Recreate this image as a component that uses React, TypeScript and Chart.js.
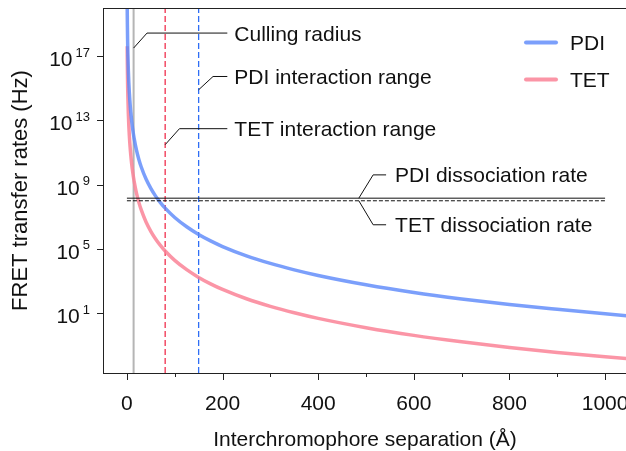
import React, { useEffect, useRef } from 'react';
import { Chart, registerables } from 'chart.js';

Chart.register(...registerables);

// ---- data ----
const separations = [0.6, 0.8, 1, 1.5, 2, 3, 4, 5, 6, 8, 10, 12, 15, 20, 25, 30, 40, 50, 60, 70, 80, 100, 125, 150, 175, 200, 250, 300, 350, 400, 500, 600, 700, 800, 900, 1000, 1100];
const pdiRates = [1.95e20, 3.47e19, 9.12e18, 7.94e17, 1.41e17, 1.26e16, 2.24e15, 5.89e14, 1.95e14, 3.47e13, 9.12e12, 3.09e12, 7.94e11, 1.41e11, 3.72e10, 1.26e10, 2.24e9, 5.89e8, 1.95e8, 7.76e7, 3.47e7, 9.12e6, 2.4e6, 7.94e5, 3.16e5, 1.41e5, 3.72e4, 1.26e4, 5.01e3, 2.24e3, 589, 195, 77.6, 34.7, 17.4, 9.12, 5.13];
const tetRates = [4.17e17, 7.41e16, 1.95e16, 1.7e15, 3.02e14, 2.69e13, 4.79e12, 1.26e12, 4.17e11, 7.41e10, 1.95e10, 6.61e9, 1.7e9, 3.02e8, 7.94e7, 2.69e7, 4.79e6, 1.26e6, 4.17e5, 1.66e5, 7.41e4, 1.95e4, 5.13e3, 1.7e3, 676, 302, 79.4, 26.9, 10.7, 4.79, 1.26, 0.417, 0.166, 0.0741, 0.0363, 0.0195, 0.011];

const xMajorTicks = [0, 200, 400, 600, 800, 1000];
const xMinorTicks = [100, 300, 500, 700, 900];
const yTickExponents = [1, 5, 9, 13, 17];
const xLimits = [-50, 1050];
const yLimits = [1.9e-3, 1e20];

const cullingRadius = 14;
const tetInteractionRange = 80;
const pdiInteractionRange = 150;
const pdiDissociationRate = 1.45e8;
const tetDissociationRate = 1.0e8;
const dissociationSpan = [0, 1000];

const seriesLabels = ['PDI', 'TET'];
const PDI_COLOR = 'rgba(90,135,250,0.8)';
const TET_COLOR = 'rgba(250,130,150,0.85)';
const FONT = '"Liberation Sans", Arial, Helvetica, sans-serif';

const annotations = [
  { text: 'Culling radius', x: cullingRadius, y: 3.2e17, dx: 13.4, dy: -15, endX: 210, gap: 7 },
  { text: 'PDI interaction range', x: pdiInteractionRange, y: 8.1e14, dx: 14.4, dy: -13.3, endX: 210, gap: 7 },
  { text: 'TET interaction range', x: tetInteractionRange, y: 3.1e11, dx: 14.3, dy: -16, endX: 210, gap: 7 },
  { text: 'PDI dissociation rate', x: 485, y: pdiDissociationRate, dx: 14.3, dy: -23.3, endX: 542, gap: 9 },
  { text: 'TET dissociation rate', x: 485, y: tetDissociationRate, dx: 14.3, dy: 24, endX: 542, gap: 9 },
];

const pts = (xs: number[], ys: number[]) => xs.map((x, i) => ({ x, y: ys[i] }));

const decorPlugin = {
  id: 'decor',
  afterDraw(chart: any) {
    const { ctx, chartArea: a, scales } = chart;
    const x = scales.x;
    const y = scales.y;
    ctx.save();
    ctx.strokeStyle = '#222';
    ctx.fillStyle = '#111';
    ctx.lineWidth = 1;
    // top spine
    ctx.beginPath();
    ctx.moveTo(a.left, Math.round(a.top) + 0.5);
    ctx.lineTo(a.right + 20, Math.round(a.top) + 0.5);
    ctx.stroke();

    // x ticks
    ctx.font = `21px ${FONT}`;
    ctx.textAlign = 'center';
    ctx.textBaseline = 'alphabetic';
    for (const v of xMajorTicks) {
      const px = Math.round(x.getPixelForValue(v)) + 0.5;
      ctx.beginPath();
      ctx.moveTo(px, a.bottom);
      ctx.lineTo(px, a.bottom + 7);
      ctx.stroke();
      ctx.fillText(String(v), x.getPixelForValue(v), a.bottom + 37);
    }
    for (const v of xMinorTicks) {
      const px = Math.round(x.getPixelForValue(v)) + 0.5;
      ctx.beginPath();
      ctx.moveTo(px, a.bottom);
      ctx.lineTo(px, a.bottom + 4);
      ctx.stroke();
    }

    // y ticks with superscript exponents
    for (const e of yTickExponents) {
      const py = y.getPixelForValue(Math.pow(10, e));
      const pyr = Math.round(py) + 0.5;
      ctx.beginPath();
      ctx.moveTo(a.left - 6, pyr);
      ctx.lineTo(a.left, pyr);
      ctx.stroke();
      ctx.textAlign = 'right';
      ctx.font = `13px ${FONT}`;
      const expText = String(e);
      const ew = ctx.measureText(expText).width;
      const right = a.left - 13;
      ctx.fillText(expText, right, py + 0.5);
      ctx.font = `21px ${FONT}`;
      ctx.fillText('10', right - ew - 3, py + 10);
    }

    // axis titles
    ctx.font = `21px ${FONT}`;
    ctx.textAlign = 'center';
    ctx.fillText('Interchromophore separation (Å)', (a.left + a.right) / 2 - 1, 446);
    ctx.save();
    ctx.translate(27, (a.top + a.bottom) / 2);
    ctx.rotate(-Math.PI / 2);
    ctx.font = `22px ${FONT}`;
    ctx.fillText('FRET transfer rates (Hz)', 0, 0);
    ctx.restore();

    // annotations with elbow leaders
    ctx.font = `21px ${FONT}`;
    ctx.textAlign = 'left';
    ctx.lineWidth = 1;
    ctx.strokeStyle = '#111';
    for (const an of annotations) {
      const x0 = x.getPixelForValue(an.x);
      const y0 = y.getPixelForValue(an.y);
      const x1 = x0 + an.dx;
      const y1 = y0 + an.dy;
      const x2 = x.getPixelForValue(an.endX);
      ctx.beginPath();
      ctx.moveTo(x0, y0);
      ctx.lineTo(x1, y1);
      ctx.lineTo(x2, y1);
      ctx.stroke();
      ctx.fillText(an.text, x2 + an.gap, y1 + 7.5);
    }

    // legend
    const colors = [PDI_COLOR, TET_COLOR];
    const rows = [a.top + 34.5, a.top + 71.5];
    seriesLabels.forEach((lab, i) => {
      ctx.strokeStyle = colors[i];
      ctx.lineWidth = 4;
      ctx.lineCap = 'round';
      ctx.beginPath();
      ctx.moveTo(a.right - 103, rows[i]);
      ctx.lineTo(a.right - 73, rows[i]);
      ctx.stroke();
      ctx.fillStyle = '#111';
      ctx.font = `21px ${FONT}`;
      ctx.fillText(lab, a.right - 59, rows[i] + 7.5);
    });
    ctx.restore();
  },
};

export default function App() {
  const ref = useRef<HTMLCanvasElement>(null);
  useEffect(() => {
    document.body.style.margin = '0';
    const canvas = ref.current!;
    const chart = new Chart(canvas, {
      type: 'line',
      data: {
        datasets: [
          {
            label: 'PDI dissociation',
            data: pts(dissociationSpan, [pdiDissociationRate, pdiDissociationRate]),
            borderColor: '#111', borderWidth: 1, pointRadius: 0, fill: false,
          },
          {
            label: 'TET dissociation',
            data: pts(dissociationSpan, [tetDissociationRate, tetDissociationRate]),
            borderColor: '#111', borderWidth: 1, borderDash: [4, 2], pointRadius: 0, fill: false,
          },
          {
            label: seriesLabels[0],
            data: pts(separations, pdiRates),
            borderColor: PDI_COLOR, borderWidth: 3.5, pointRadius: 0, fill: false,
            cubicInterpolationMode: 'monotone', clip: 0,
          },
          {
            label: seriesLabels[1],
            data: pts(separations, tetRates),
            borderColor: TET_COLOR, borderWidth: 3.5, pointRadius: 0, fill: false,
            cubicInterpolationMode: 'monotone', clip: 0,
          },
          {
            label: 'Culling radius',
            data: pts([cullingRadius, cullingRadius], yLimits),
            borderColor: '#b5b5b5', borderWidth: 2, pointRadius: 0, fill: false,
          },
          {
            label: 'TET interaction range',
            data: pts([tetInteractionRange, tetInteractionRange], yLimits),
            borderColor: '#f0304e', borderWidth: 1.3, borderDash: [6, 3], pointRadius: 0, fill: false,
          },
          {
            label: 'PDI interaction range',
            data: pts([pdiInteractionRange, pdiInteractionRange], yLimits),
            borderColor: '#2f6ef5', borderWidth: 1.3, borderDash: [6, 3], pointRadius: 0, fill: false,
          },
        ],
      } as any,
      options: {
        animation: false,
        responsive: false,
        devicePixelRatio: 1,
        layout: { padding: { top: 8, right: 11, left: 0, bottom: 0 } },
        plugins: { legend: { display: false }, tooltip: { enabled: false } },
        scales: {
          x: {
            type: 'linear', min: xLimits[0], max: xLimits[1],
            grid: { display: false }, ticks: { display: false },
            border: { display: true, color: '#222', width: 1 },
            afterFit: (s: any) => { s.height = 78; },
          },
          y: {
            type: 'logarithmic', min: yLimits[0], max: yLimits[1],
            grid: { display: false }, ticks: { display: false },
            border: { display: true, color: '#222', width: 1 },
            afterFit: (s: any) => { s.width = 103; },
          },
        },
      } as any,
      plugins: [decorPlugin],
    });
    return () => chart.destroy();
  }, []);
  return (
    <div style={{ position: 'fixed', left: 0, top: 0, width: 626, height: 451, overflow: 'hidden', background: '#fff' }}>
      <canvas ref={ref} width={640} height={451} style={{ display: 'block', width: 640, height: 451 }} />
    </div>
  );
}
